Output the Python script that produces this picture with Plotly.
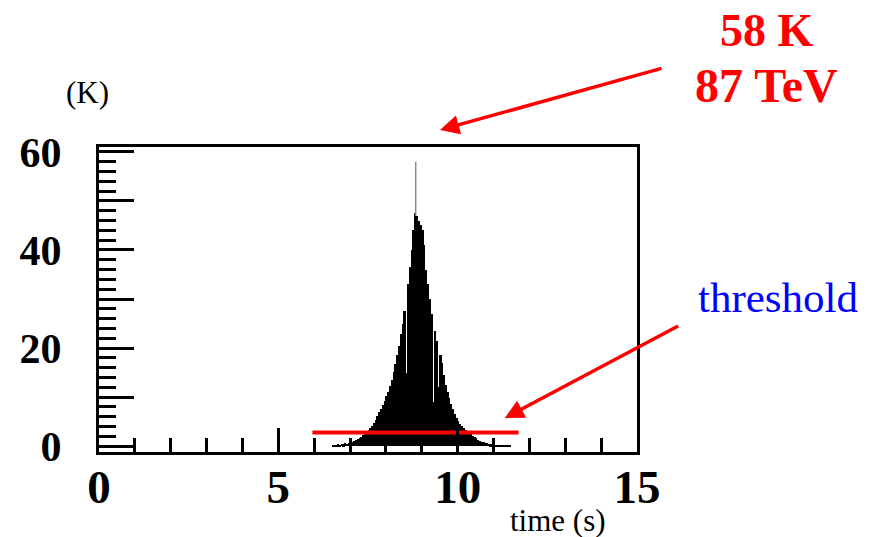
import plotly.graph_objects as go

# ---- data ----
bin_start = 6.5
bin_width = 0.05
signal_k = [
    0.2, 0.3, 0.2, 0.4, 0.3, 0.5, 0.4, 0.6, 0.5, 0.7,
    0.6, 0.9, 1.0, 1.2, 1.4, 1.6, 1.9, 2.2, 2.6, 2.9,
    3.3, 3.7, 4.2, 4.8, 5.4, 6.1, 6.9, 7.6, 8.4, 9.2,
    10.2, 11.0, 12.3, 13.5, 15.2, 16.8, 18.5, 20.5, 22.8, 25.0,
    27.5, 15.0, 33.0, 36.5, 40.0, 44.0, 47.5, 47.0, 46.0, 45.0,
    44.0, 41.0, 36.0, 33.0, 30.0, 27.0, 9.0, 23.5, 21.5, 12.0,
    18.5, 17.0, 14.5, 12.5, 11.0, 9.8, 8.6, 7.5, 6.6, 5.8,
    5.2, 4.6, 4.1, 3.7, 3.3, 3.0, 2.7, 2.4, 2.1, 1.8,
    1.6, 1.3, 1.1, 0.9, 0.8, 0.7, 0.6, 0.5, 0.4, 0.4,
    0.3, 0.3, 0.2, 0.2, 0.2, 0.1, 0.1, 0.1, 0.1, 0.1,
]
time_s = [bin_start + bin_width * (i + 0.5) for i in range(len(signal_k))]

peak_time = 8.83
peak_base = 47.0
peak_value = 58.0

threshold_k = 2.8
threshold_window = [5.95, 11.7]

x_ticks = [0, 5, 10, 15]
y_ticks = [0, 10, 20, 30, 40, 50, 60]
y_ticktext = ["0", "", "20", "", "40", "", "60"]

# ---- figure ----
fig = go.Figure()
fig.add_trace(go.Bar(
    x=time_s, y=signal_k, width=bin_width,
    marker=dict(color="black", line=dict(width=0)),
    showlegend=False, hoverinfo="skip",
))
fig.add_trace(go.Scatter(
    x=[peak_time, peak_time], y=[peak_base, peak_value],
    mode="lines", line=dict(color="#8a8a8a", width=1.5),
    showlegend=False, hoverinfo="skip",
))
fig.add_trace(go.Scatter(
    x=threshold_window, y=[threshold_k, threshold_k],
    mode="lines", line=dict(color="#ff0000", width=4),
    showlegend=False, hoverinfo="skip",
))

serif = "Liberation Serif"

fig.update_layout(
    width=866, height=529,
    margin=dict(l=91, r=237, t=139, b=85),
    paper_bgcolor="white", plot_bgcolor="white",
    bargap=0,
    xaxis=dict(
        range=[0, 15], showgrid=False, zeroline=False,
        showline=True, linecolor="black", linewidth=3, mirror=True,
        tickvals=x_ticks, ticks="inside", ticklen=24, tickwidth=3, tickcolor="black",
        minor=dict(dtick=1, ticks="inside", ticklen=14, tickwidth=3, tickcolor="black"),
        tickfont=dict(family=serif, size=47, color="black", weight="bold"),
        ticklabelstandoff=-8,
    ),
    yaxis=dict(
        range=[-1.2, 61], showgrid=False, zeroline=False,
        showline=True, linecolor="black", linewidth=3, mirror=True,
        tickvals=y_ticks, ticktext=y_ticktext,
        ticks="inside", ticklen=35, tickwidth=3, tickcolor="black",
        minor=dict(dtick=2, ticks="inside", ticklen=17, tickwidth=3, tickcolor="black"),
        tickfont=dict(family=serif, size=42, color="black", weight="bold"),
        ticklabelstandoff=26,
    ),
    annotations=[
        dict(text="58 K", xref="paper", yref="paper", x=1.2416, y=1.383,
             showarrow=False, xanchor="center", yanchor="middle",
             font=dict(family=serif, size=46, color="#ff0000", weight="bold")),
        dict(text="87 TeV", xref="paper", yref="paper", x=1.2416, y=1.203,
             showarrow=False, xanchor="center", yanchor="middle",
             font=dict(family=serif, size=48, color="#ff0000", weight="bold")),
        dict(text="", xref="paper", yref="paper", x=0.6338, y=1.0557,
             showarrow=True, ax=223, ay=-62, axref="pixel", ayref="pixel",
             arrowhead=2, arrowsize=1.1, arrowwidth=3.5, arrowcolor="#ff0000"),
        dict(text="(K)", xref="paper", yref="paper", x=-0.0223, y=1.180,
             showarrow=False, xanchor="center", yanchor="middle",
             font=dict(family=serif, size=31, color="black")),
        dict(text="threshold", xref="paper", yref="paper", x=1.262, y=0.508,
             showarrow=False, xanchor="center", yanchor="middle",
             font=dict(family=serif, size=43, color="#0000ff")),
        dict(text="", xref="x", yref="y", x=11.31, y=5.7,
             showarrow=True, ax=175, ay=-93, axref="pixel", ayref="pixel",
             arrowhead=2, arrowsize=1.1, arrowwidth=3.5, arrowcolor="#ff0000"),
        dict(text="time (s)", xref="paper", yref="paper", x=0.853, y=-0.226,
             showarrow=False, xanchor="center", yanchor="middle",
             font=dict(family=serif, size=31, color="black")),
    ],
)

fig.write_html("out.html")
